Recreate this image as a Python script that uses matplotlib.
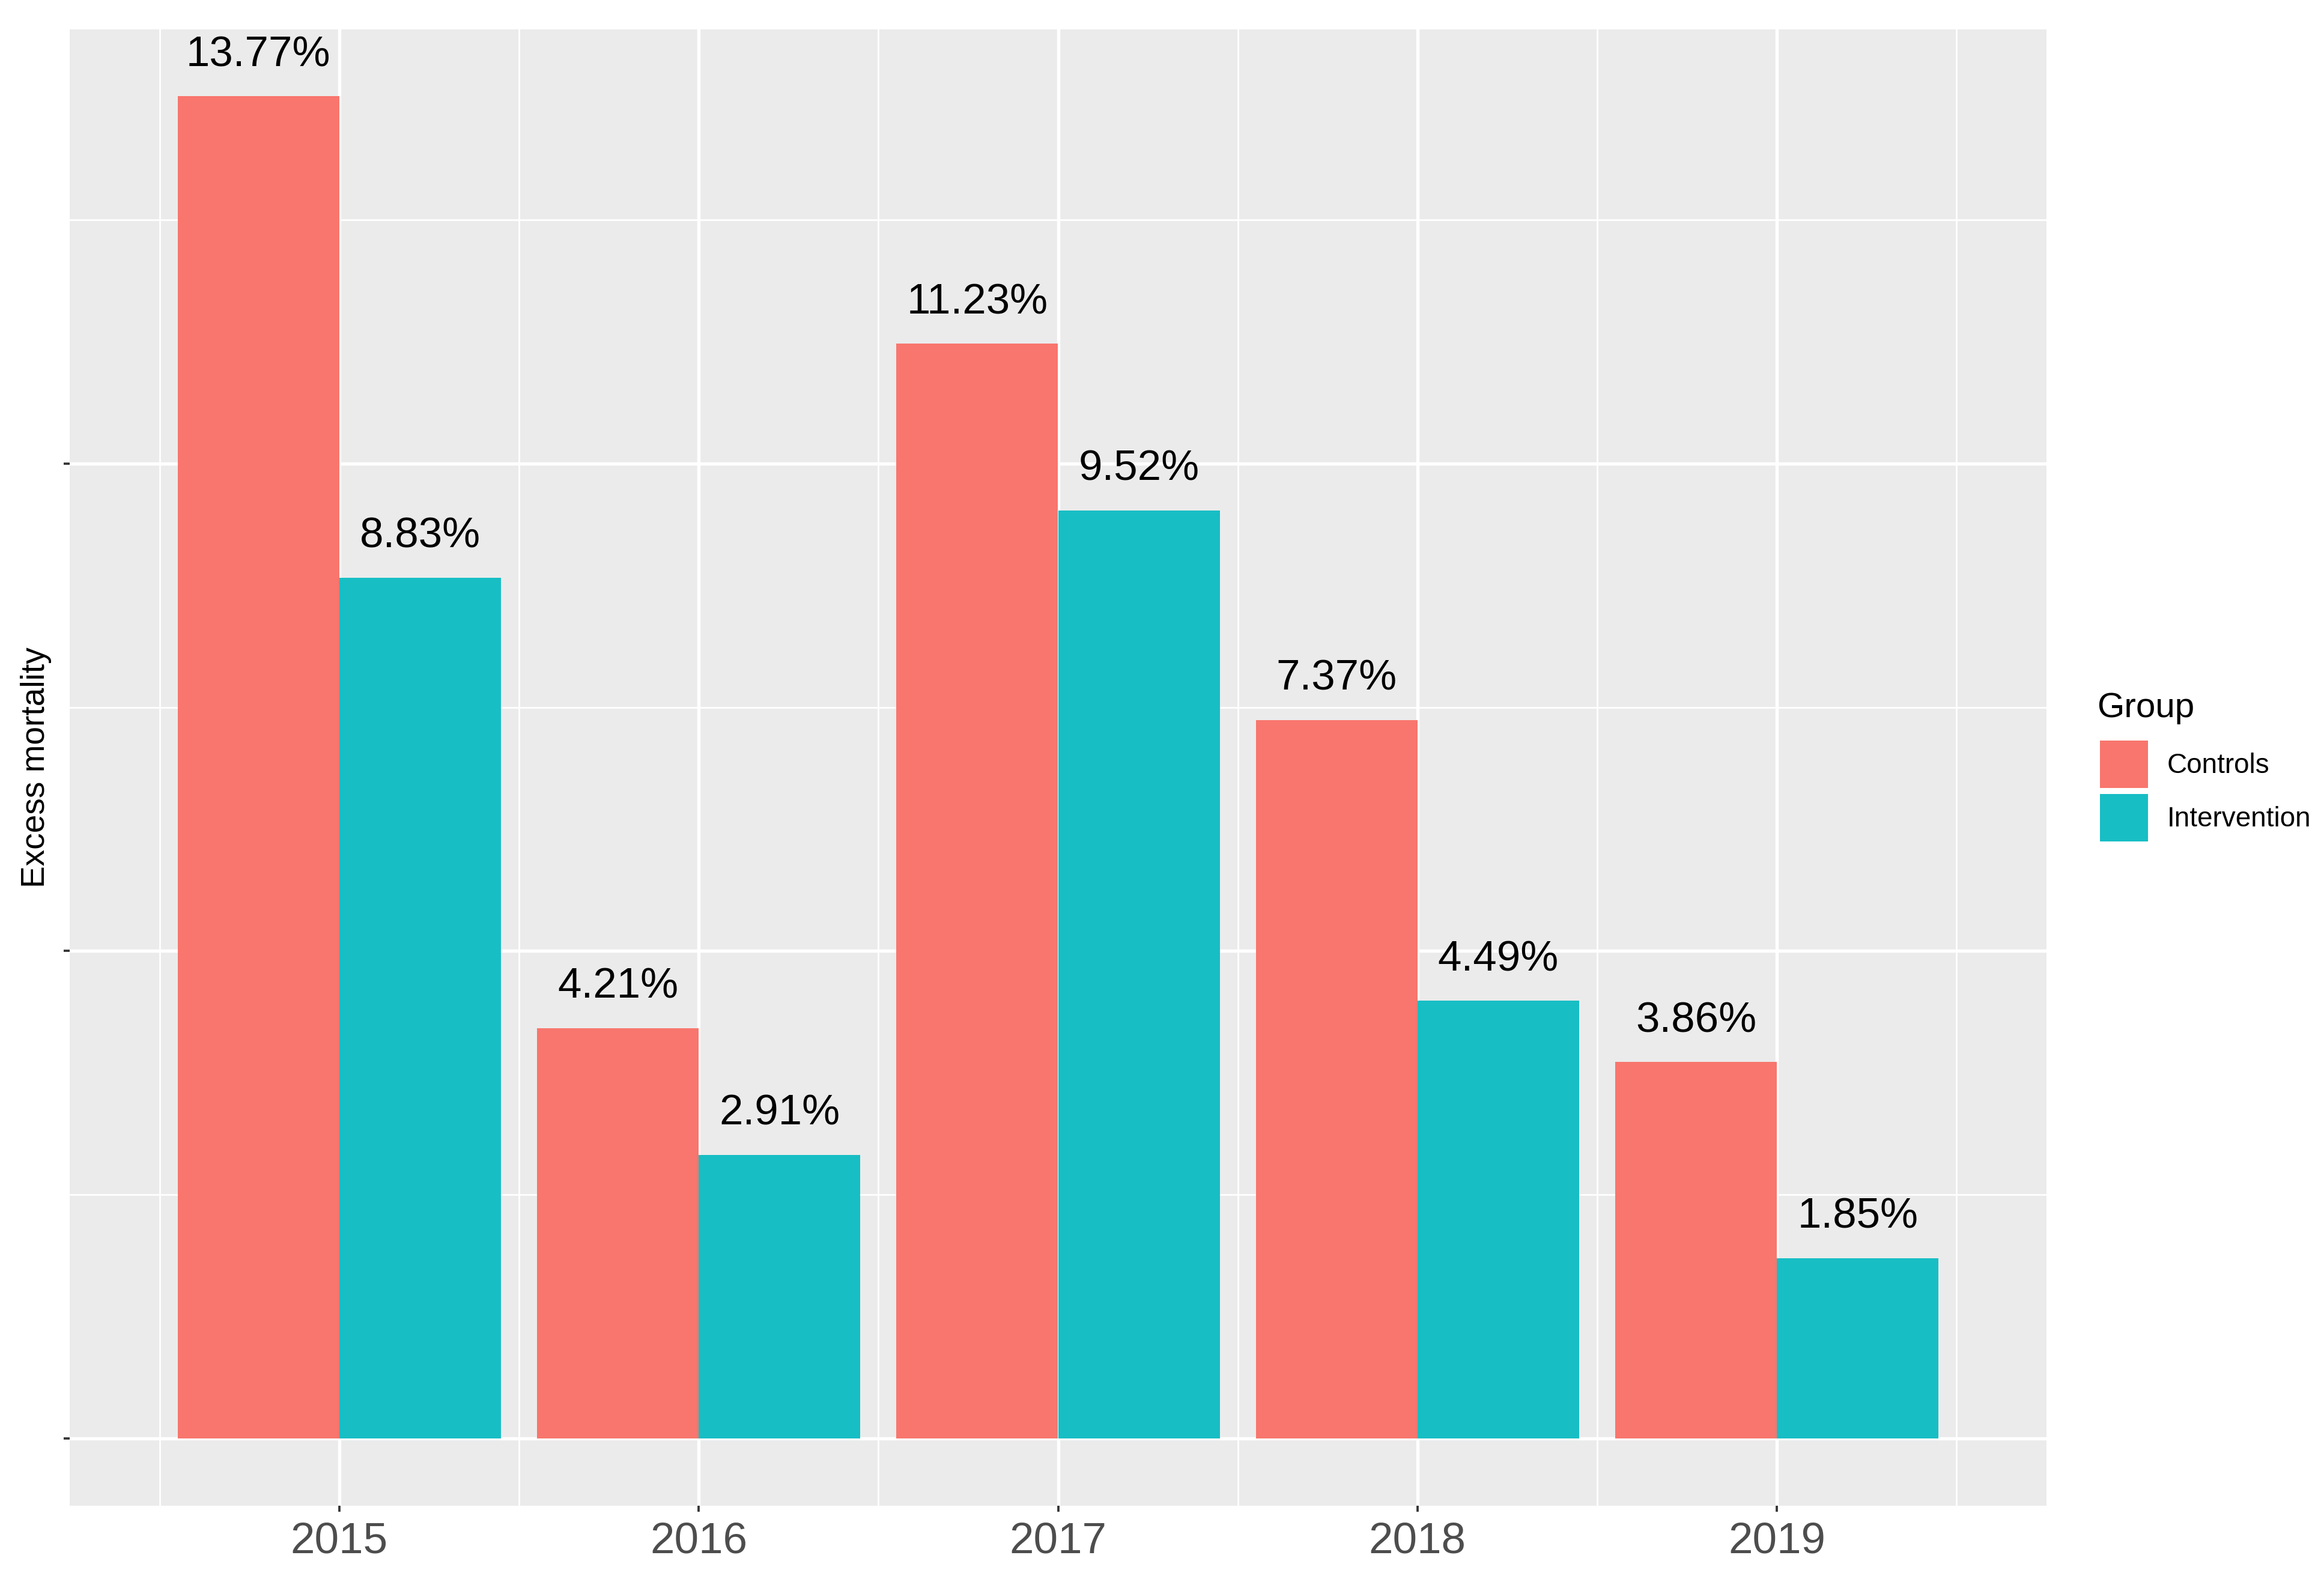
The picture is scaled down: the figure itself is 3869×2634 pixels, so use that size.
import numpy as np
import matplotlib
matplotlib.use('Agg')
import matplotlib.pyplot as plt
from matplotlib.patches import Patch

plt.rcParams['font.family'] = ['Liberation Sans', 'DejaVu Sans']

# data
years = ['2015', '2016', '2017', '2018', '2019']
groups = ['Controls', 'Intervention']
controls = [13.77, 4.21, 11.23, 7.37, 3.86]
intervention = [8.83, 2.91, 9.52, 4.49, 1.85]
colors = ['#F8766D', '#17BEC4']

W, H = 3869, 2634
dpi = 300
fig = plt.figure(figsize=(W / dpi, H / dpi), dpi=dpi)
# panel edges in output pixels
left, right, top, bottom = 116, 3407, 48.5, 2506.5
ax = fig.add_axes([left / W, 1 - bottom / H, (right - left) / W, (bottom - top) / H])
ax.set_facecolor('#EBEBEB')
for s in ax.spines.values():
    s.set_visible(False)

x = np.arange(len(years))
bw = 0.45
b1 = ax.bar(x - bw / 2, controls, width=bw, color=colors[0], zorder=3)
b2 = ax.bar(x + bw / 2, intervention, width=bw, color=colors[1], zorder=3)

for bars, vals in ((b1, controls), (b2, intervention)):
    for r, v in zip(bars, vals):
        ax.annotate(f'{v:.2f}%', (r.get_x() + r.get_width() / 2, v),
                    xytext=(0, 12), textcoords='offset points',
                    ha='center', va='baseline', fontsize=17, color='black', zorder=4)

ymax = max(controls)
ax.set_ylim(-0.05 * ymax, ymax * 1.05)
ax.set_xlim(-0.75, len(years) - 0.25)

ax.set_yticks([0, 5, 10])
ax.set_yticklabels([])
ax.set_yticks([2.5, 7.5, 12.5], minor=True)
ax.set_xticks(x)
ax.set_xticklabels(years)
ax.set_xticks(np.append(x - 0.5, x[-1] + 0.5), minor=True)

ax.grid(which='major', color='white', linewidth=1.3, zorder=0)
ax.grid(which='minor', color='white', linewidth=0.65, zorder=0)
ax.set_axisbelow(True)
ax.tick_params(which='major', length=2.4, width=0.9, color='#333333', pad=4,
               labelsize=17.5, labelcolor='#4D4D4D')
ax.tick_params(which='minor', length=0)

ax.set_ylabel('Excess mortality', fontsize=13.2, color='black')
ax.yaxis.set_label_coords(-12 / 1334, 0.5)

# legend: title drawn separately so the gap under it can differ from the key gap
fig.text(1415 / 1568, 1 - 479 / 1070, 'Group', fontsize=14, ha='left', va='center')
handles = [Patch(facecolor=c, edgecolor='none') for c in colors]
leg = fig.legend(handles, groups, loc='upper left',
                 bbox_to_anchor=(1417 / 1568, 1 - 501 / 1070), frameon=False,
                 fontsize=11, handlelength=1.73, handleheight=2.28, borderpad=0,
                 labelspacing=0.21, handletextpad=0.7, borderaxespad=0)

fig.savefig('out.png', dpi=dpi, facecolor='white')
